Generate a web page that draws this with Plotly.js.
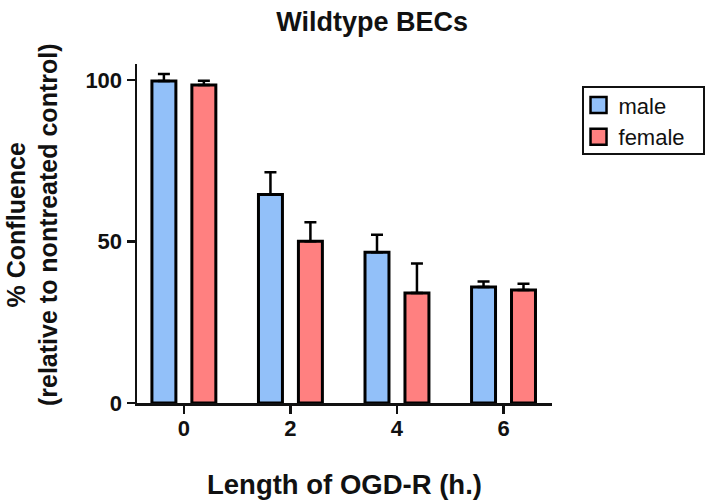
<!DOCTYPE html>
<html>
<head>
<meta charset="utf-8">
<script src="https://cdn.plot.ly/plotly-3.0.1.min.js"></script>
<style>html,body{margin:0;padding:0;background:#fff;}#chart{width:705px;height:501px;}</style>
</head>
<body>
<div id="chart"></div>
<script>
// Data
const hours = [0, 2, 4, 6];
const maleValues = [99.7, 64.6, 46.7, 35.9];
const maleErrors = [2.2, 6.9, 5.4, 1.7];
const femaleValues = [98.5, 50.1, 34.1, 35.0];
const femaleErrors = [1.3, 5.9, 9.1, 1.9];
const seriesNames = ['male', 'female'];
const seriesColors = ['#92c0f9', '#ff8080'];
const yTicks = [0, 50, 100];

const FONT = 'Liberation Sans, Arial, Helvetica, sans-serif';

function barTrace(name, values, errors, color) {
  return {
    type: 'bar',
    name: name,
    legendgroup: name,
    showlegend: false,
    x: hours,
    y: values,
    marker: {color: color, line: {color: '#000', width: 3}},
    error_y: {type: 'data', array: errors, arrayminus: errors.map(() => 0), symmetric: false,
              color: '#000', thickness: 2.5, width: 6},
  };
}
function legendProxy(name, color) {
  return {
    type: 'scatter', mode: 'markers', name: name, legendgroup: name,
    x: [null], y: [null], showlegend: true,
    marker: {symbol: 'square', size: 16, color: color, line: {color: '#000', width: 2.5}}
  };
}

const data = [
  barTrace(seriesNames[0], maleValues, maleErrors, seriesColors[0]),
  barTrace(seriesNames[1], femaleValues, femaleErrors, seriesColors[1]),
  legendProxy(seriesNames[0], seriesColors[0]),
  legendProxy(seriesNames[1], seriesColors[1]),
];

const layout = {
  width: 705, height: 501,
  margin: {l: 137, r: 153, t: 64, b: 98},
  paper_bgcolor: '#fff', plot_bgcolor: '#fff',
  barmode: 'group', bargap: 0.25, bargroupgap: 0.4,
  font: {family: FONT, color: '#111'},
  title: {text: 'Wildtype BECs', font: {family: FONT, size: 27, weight: 'bold', color: '#111'},
          x: 0.528, xanchor: 'center', xref: 'container', y: 0.956, yanchor: 'middle', yref: 'container'},
  xaxis: {
    range: [-0.88, 6.91], tickvals: hours, ticktext: hours.map(String),
    showgrid: false, zeroline: false, showline: true, linecolor: '#111', linewidth: 2.5,
    ticks: 'outside', ticklen: 8, tickwidth: 2.5, tickcolor: '#111', ticklabelstandoff: -4,
    tickfont: {family: FONT, size: 22, weight: 'bold', color: '#111'},
    fixedrange: true
  },
  yaxis: {
    range: [0, 105], tickvals: yTicks, ticktext: yTicks.map(String),
    showgrid: false, zeroline: false, showline: true, linecolor: '#111', linewidth: 2.5,
    ticks: 'outside', ticklen: 8, tickwidth: 2.5, tickcolor: '#111',
    tickfont: {family: FONT, size: 22, weight: 'bold', color: '#111'},
    fixedrange: true
  },
  showlegend: true,
  legend: {
    xref: 'container', yref: 'container',
    x: 0.8206, xanchor: 'left', y: 0.8317, yanchor: 'top', tracegroupgap: 0,
    borderwidth: 0, bgcolor: 'rgba(0,0,0,0)',
    font: {family: FONT, size: 22, color: '#111'}
  },
  shapes: [
    {type: 'rect', xref: 'paper', yref: 'paper', x0: 1.0747, x1: 1.3663, y0: 0.7345, y1: 0.932,
     line: {color: '#111', width: 2}, fillcolor: 'rgba(0,0,0,0)'}
  ],
  annotations: [
    {text: '% Confluence<br>(relative to nontreated control)', textangle: -90,
     xref: 'paper', yref: 'paper', x: -0.253, y: 0.525, xanchor: 'center', yanchor: 'middle',
     showarrow: false, font: {family: FONT, size: 25, weight: 'bold', color: '#111'}},
    {text: 'Length of OGD-R (h.)', xref: 'paper', yref: 'paper', x: 0.5, y: -0.239,
     xanchor: 'center', yanchor: 'middle', showarrow: false,
     font: {family: FONT, size: 27.5, weight: 'bold', color: '#111'}}
  ]
};

Plotly.newPlot('chart', data, layout, {displayModeBar: false, staticPlot: true});
</script>
</body>
</html>
